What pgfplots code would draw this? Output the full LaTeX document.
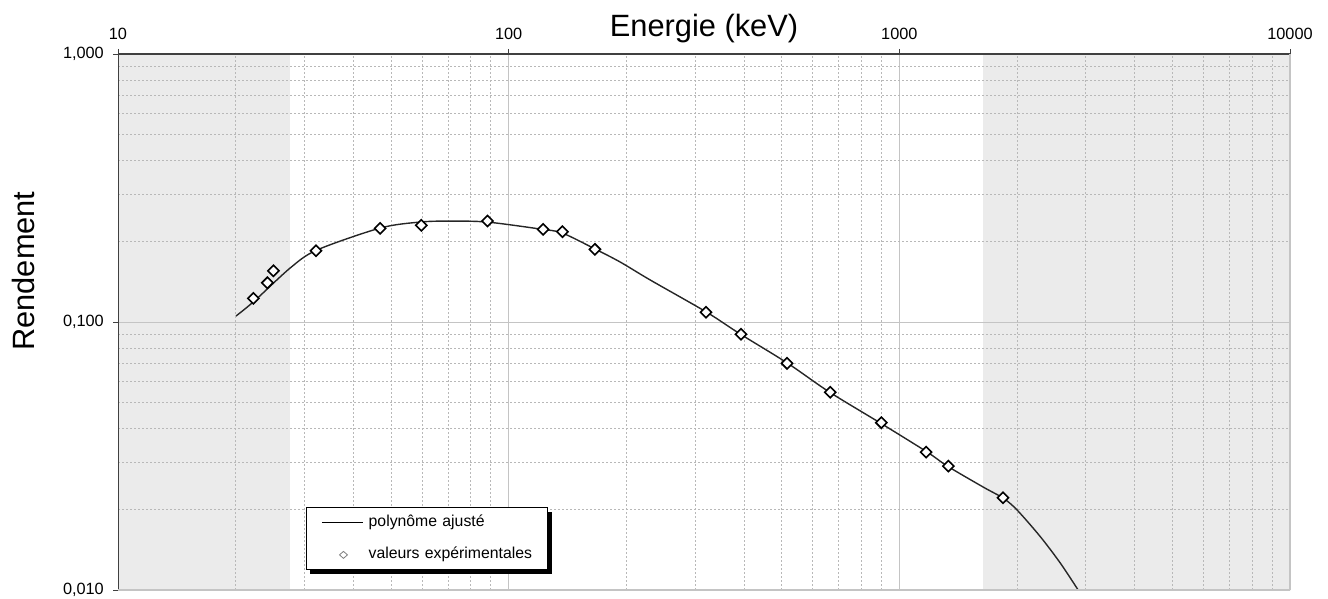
\documentclass[border=0pt]{standalone}
\usepackage{pgfplots}
\pgfplotsset{compat=1.18}
\usepackage{fontspec}
\setmainfont{Liberation Sans}
\usetikzlibrary{shadows}

\definecolor{zone}{HTML}{EBEBEB}
\definecolor{axisdark}{HTML}{404040}
\definecolor{gridmaj}{HTML}{C4C4C4}
\definecolor{gridmin}{HTML}{B8B8B8}

% keep the legend frame's shadow off the small legend glyphs
\makeatletter
\tikzset{no preactions/.code={\let\tikz@preactions\pgfutil@empty}}
\makeatother

\begin{document}
\begin{tikzpicture}
\begin{axis}[
  set layers,
  scale only axis,
  width=1172pt, height=536pt,
  xmode=log, ymode=log,
  xmin=10, xmax=10000, ymin=0.01, ymax=1,
  axis line style={draw=none},
  xtick={10,100,1000,10000},
  xticklabels={10,100,1000,10000},
  minor xtick={20,30,40,50,60,70,80,90,200,300,400,500,600,700,800,900,2000,3000,4000,5000,6000,7000,8000,9000},
  ytick={0.01,0.1,1},
  yticklabels={{0,010},{0,100},{1,000}},
  minor ytick={0.02,0.03,0.04,0.05,0.06,0.07,0.08,0.09,0.2,0.3,0.4,0.5,0.6,0.7,0.8,0.9},
  xtick pos=upper, xticklabel pos=upper,
  ytick pos=left,
  tick align=outside,
  major tick length=5pt, minor tick length=0pt,
  tick style={axisdark, line width=0.9pt},
  grid=both,
  major grid style={solid, gridmaj, line width=0.9pt},
  minor grid style={gridmin, line width=0.7pt, dash pattern=on 2pt off 2pt},
  xticklabel style={anchor=base, inner sep=0pt, yshift=9pt, font=\fontsize{16.3}{19}\selectfont},
  yticklabel style={anchor=east, inner sep=0pt, xshift=-9pt, font=\fontsize{16.3}{19}\selectfont},
  xlabel={Energie (keV)},
  xlabel style={at={(axis description cs:0.5,1)}, anchor=base, yshift=17pt, inner sep=0pt, font=\fontsize{30.8}{36}\selectfont},
  ylabel={Rendement},
  ylabel style={at={(axis description cs:-0.0806,0.595)}, anchor=center, inner sep=0pt, font=\fontsize{30.8}{36}\selectfont},
  legend style={
    at={(axis description cs:0.1604,0.0373)}, anchor=south west,
    draw=black, line width=0.8pt, fill=white,
    drop shadow={shadow xshift=4pt, shadow yshift=-4pt, opacity=1, fill=black},
    font=\fontsize{15.8}{18}\selectfont,
    inner xsep=15pt, inner ysep=7.5pt, row sep=18pt,
    nodes={inner sep=0pt, text height=11pt, text depth=3.5pt},
    /tikz/column 2/.style={nodes={text width=164pt, align=left}},
  },
  legend cell align=left,
]
% shaded energy ranges outside the calibrated domain
\addplot[fill=zone, draw=none, on layer=axis background, forget plot]
  coordinates {(10,0.01) (27.6,0.01) (27.6,1) (10,1)} -- cycle;
\addplot[fill=zone, draw=none, on layer=axis background, forget plot]
  coordinates {(1641,0.01) (10000,0.01) (10000,1) (1641,1)} -- cycle;

% fitted efficiency polynomial
\addplot[smooth, color=black!85, line width=1.4pt,
  legend image code/.code={\draw[no preactions, black, line width=1.2pt] (0pt,0pt) -- (41pt,0pt); \path (46pt,0pt);}]
  coordinates {
  (20.05,0.1053) (22.3,0.1195) (27.58,0.159) (32.3,0.1856) (46.9,0.2242)
  (59.3,0.236) (70.8,0.238) (88.1,0.236) (120.4,0.2223) (137.1,0.2148)
  (166.5,0.1872) (193.0,0.1674) (230.3,0.1435) (320.5,0.109) (391.5,0.0902)
  (516.7,0.0703) (661.9,0.0548) (894,0.042) (1179,0.0327) (1327,0.029)
  (1641,0.0242) (1846,0.022) (2002,0.01988) (2296,0.01581) (2585,0.01258)
  (2869,0.0100)
  };
\addlegendentry{polynôme ajusté}

% measured efficiencies
\addplot[only marks, mark=square*, mark size=3.9pt,
  mark options={rotate=45, fill=white, draw=black, line width=1.6pt},
  legend image code/.code={\draw[no preactions, gray, fill=white, line width=0.8pt] (21.5pt,3.5pt) -- (25.5pt,0pt) -- (21.5pt,-3.5pt) -- (17.5pt,0pt) -- cycle; \path (0pt,0pt) (46pt,0pt);}]
  coordinates {
  (22.21,0.1226) (24.12,0.1401) (24.99,0.1553) (32.14,0.1845) (46.88,0.2237)
  (59.76,0.2295) (88.24,0.2381) (122.5,0.2217) (137.3,0.2173) (166.3,0.1867)
  (319.9,0.1087) (393.2,0.0900) (515.8,0.0701) (665.8,0.0547) (899.4,0.0421)
  (1170.5,0.0327) (1335.5,0.0290) (1843,0.0221)
  };
\addlegendentry{valeurs expérimentales}

% frame: dark on the tick sides, light on the others
\draw[axisdark, line width=1.1pt] (rel axis cs:0,0) -- (rel axis cs:0,1) -- (rel axis cs:1,1);
\draw[gridmaj, line width=1.3pt] (rel axis cs:0,0) -- (rel axis cs:1,0) -- (rel axis cs:1,1);

\coordinate (SW) at (rel axis cs:0,0);
\coordinate (NE) at (rel axis cs:1,1);
\end{axis}
\pgfresetboundingbox
\path ([shift={(-118pt,-8pt)}]SW) rectangle ([shift={(38pt,54pt)}]NE);
\end{tikzpicture}
\end{document}
